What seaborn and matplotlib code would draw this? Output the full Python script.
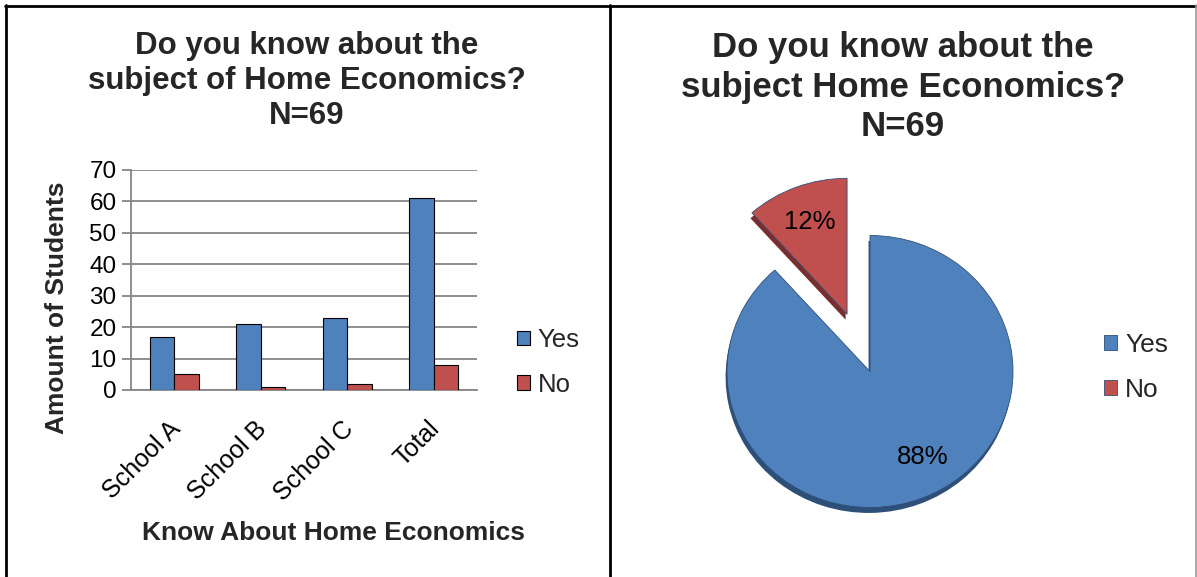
import matplotlib
matplotlib.use("Agg")
import matplotlib.pyplot as plt
import matplotlib.transforms as mtransforms
from matplotlib.lines import Line2D
import numpy as np
import pandas as pd
import seaborn as sns

# Survey counts per school
schools = ["School A", "School B", "School C", "Total"]
yes_counts = [17, 21, 23, 61]
no_counts = [5, 1, 2, 8]
answers = ["Yes", "No"]

# Overall split used for the pie
pie_values = [61, 8]

colors = ["#4F81BD", "#C0504D"]
side_colors = ["#2E4F78", "#7A2E2C"]

sns.set_theme(style="white")
plt.rcParams["font.family"] = ["Liberation Sans", "DejaVu Sans"]

W, H = 1197, 577
fig = plt.figure(figsize=(W / 100, H / 100), dpi=100)


def box(x0, y0, x1, y1):
    """Pixel box measured from the top-left corner -> figure rect."""
    return [x0 / W, 1 - y1 / H, (x1 - x0) / W, (y1 - y0) / H]


# ---------------- bar chart ----------------
df = pd.DataFrame({
    "school": schools * 2,
    "count": yes_counts + no_counts,
    "answer": ["Yes"] * len(schools) + ["No"] * len(schools),
})

ax = fig.add_axes(box(131, 170, 477, 390))
sns.barplot(data=df, x="school", y="count", hue="answer", hue_order=answers,
            palette=colors, saturation=1, width=0.57, edgecolor="black",
            linewidth=0.8, ax=ax, zorder=3)
ax.set_ylim(0, 70)
ax.set_yticks(range(0, 71, 10))
ax.yaxis.grid(True, color="#868686", linewidth=1.3, zorder=0)
ax.set_axisbelow(True)
for side in ("top", "right"):
    ax.spines[side].set_visible(False)
for side in ("left", "bottom"):
    ax.spines[side].set_color("#868686")
    ax.spines[side].set_linewidth(1.3)
ax.tick_params(axis="y", left=True, length=6.5, width=1.3, color="#868686",
               labelsize=17.5, pad=4, labelcolor="black")
ax.tick_params(axis="x", bottom=False, labelsize=18, pad=13, labelcolor="black")
ax.set_xticks(range(len(schools)))
ax.set_xticklabels(schools, rotation=45, ha="right", va="top",
                   rotation_mode="anchor")
shift = mtransforms.ScaledTranslation(-6 / 100, 0, fig.dpi_scale_trans)
for lbl in ax.get_xticklabels():
    lbl.set_transform(lbl.get_transform() + shift)

ax.set_xlabel("Know About Home Economics", fontsize=19, fontweight="bold")
ax.set_ylabel("Amount of Students", fontsize=19, fontweight="bold")
ax.xaxis.label.set_va("center")
ax.yaxis.label.set_va("center")
ax.xaxis.set_label_coords((333 - 131) / 346, (390 - 533) / 220)
ax.yaxis.set_label_coords((57 - 131) / 346, (390 - 308) / 220)

ax.legend(loc="upper left", bbox_to_anchor=(517 / W, 1 - 328 / H),
          bbox_transform=fig.transFigure, frameon=False, fontsize=18.5,
          handlelength=0.5, handleheight=0.5, handletextpad=0.3,
          labelspacing=0.8, borderpad=0, borderaxespad=0)

fig.text(307 / W, 1 - 31 / H,
         "Do you know about the\nsubject of Home Economics?\nN=69",
         ha="center", va="top", fontsize=22.5, fontweight="bold",
         linespacing=1.22)

# ---------------- pie chart ----------------
cx, cy, rx, ry = 870, 371.5, 143, 136
ax2 = fig.add_axes(box(700, 160, 1040, 530))
explode = [0, 0.45]
# darker copy drawn slightly lower gives the slab edge
ax2.pie(pie_values, startangle=90, counterclock=False, explode=explode,
        colors=side_colors, center=(-0.01, -0.04),
        wedgeprops=dict(linewidth=0))
wedges, _, pct_texts = ax2.pie(
    pie_values, startangle=90, counterclock=False, explode=explode,
    colors=colors, autopct=lambda p: f"{p:.0f}%", pctdistance=0.73,
    wedgeprops=dict(edgecolor="#2F4F7A", linewidth=0.6),
    textprops=dict(fontsize=18.5, color="black"))
# the large-slice label sits a little further round
ang = np.deg2rad(-60)
pct_texts[0].set_position((0.73 * np.cos(ang), 0.73 * np.sin(ang)))
ax2.set_aspect("auto")
ax2.set_xlim((700 - cx) / rx, (1040 - cx) / rx)
ax2.set_ylim((cy - 530) / ry, (cy - 160) / ry)
ax2.axis("off")

ax2.legend(wedges, answers, loc="upper left",
           bbox_to_anchor=(1104 / W, 1 - 333 / H),
           bbox_transform=fig.transFigure, frameon=False, fontsize=19,
           handlelength=0.5, handleheight=0.5, handletextpad=0.3,
           labelspacing=0.8, borderpad=0, borderaxespad=0)

fig.text(903 / W, 1 - 31 / H,
         "Do you know about the\nsubject Home Economics?\nN=69",
         ha="center", va="top", fontsize=25, fontweight="bold",
         linespacing=1.25)

# ---------------- panel frame ----------------
def frame_line(xs, ys, color="black", lw=2.0):
    fig.add_artist(Line2D([x / W for x in xs], [1 - y / H for y in ys],
                          color=color, linewidth=lw))

frame_line([5, 1197], [5.5, 5.5])
frame_line([5.5, 5.5], [5, 577])
frame_line([609.5, 609.5], [5, 577])
frame_line([1195.5, 1195.5], [5, 577], color="#9a9a9a", lw=1.2)

fig.savefig("out.png", dpi=100)
